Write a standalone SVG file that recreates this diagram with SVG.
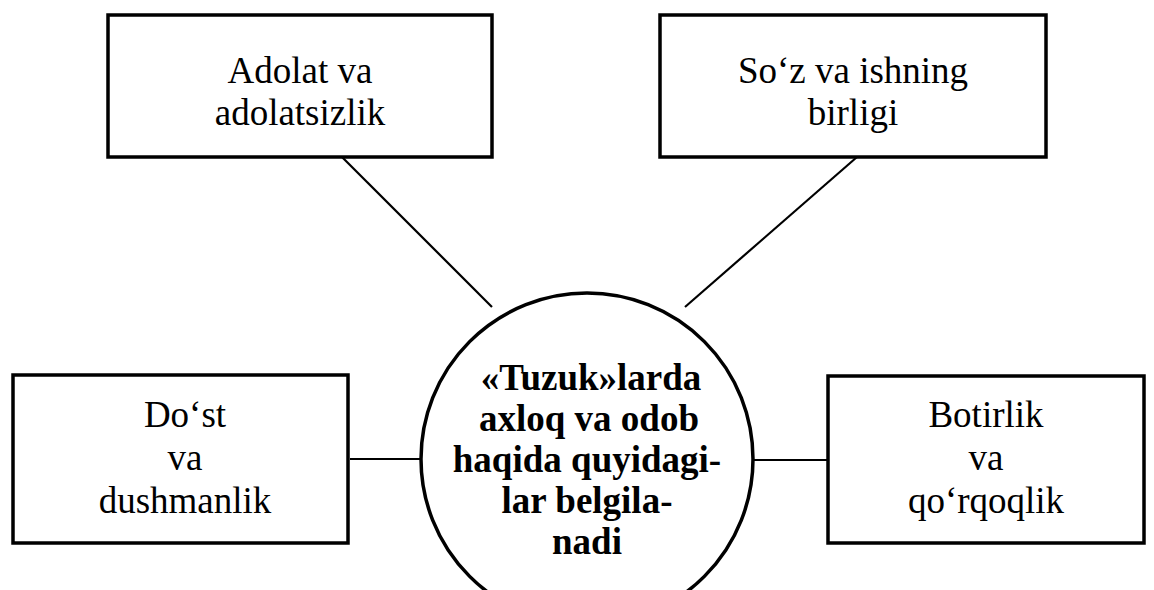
<svg xmlns="http://www.w3.org/2000/svg" width="1154" height="590" viewBox="0 0 1154 590">
<style>
.box{fill:#fff;stroke:#000;stroke-width:3.5}
.hub{fill:#fff;stroke:#000;stroke-width:3.5}
.conn line{stroke:#000;stroke-width:2.2}
.t{font-family:"Liberation Serif","Times New Roman",serif;font-size:37px;text-anchor:middle;fill:#000}
.b{font-weight:bold}
</style>
<rect width="1154" height="590" fill="#fff"/>
<g id="connectors" class="conn">
<line x1="342" y1="157" x2="492" y2="307"/>
<line x1="857" y1="157" x2="685" y2="307"/>
<line x1="350" y1="459" x2="421" y2="459"/>
<line x1="753" y1="460" x2="828" y2="460"/>
</g>
<g id="node-adolat">
<rect class="box" x="108" y="15" width="384" height="142"/>
<text class="t" x="300" y="83">Adolat va</text>
<text class="t" x="300" y="125">adolatsizlik</text>
</g>
<g id="node-soz">
<rect class="box" x="660" y="15" width="386" height="142"/>
<text class="t" x="853" y="83">So‘z va ishning</text>
<text class="t" x="853" y="125">birligi</text>
</g>
<g id="node-dost">
<rect class="box" x="13" y="375" width="335" height="168"/>
<text class="t" x="185" y="427">Do‘st</text>
<text class="t" x="185" y="470">va</text>
<text class="t" x="185" y="513">dushmanlik</text>
</g>
<g id="node-botirlik">
<rect class="box" x="828" y="376" width="316" height="167"/>
<text class="t" x="986" y="427">Botirlik</text>
<text class="t" x="986" y="470">va</text>
<text class="t" x="986" y="513">qo‘rqoqlik</text>
</g>
<g id="node-tuzuk">
<circle class="hub" cx="587" cy="459" r="166"/>
<text class="t b" x="591" y="390">«Tuzuk»larda</text>
<text class="t b" x="589" y="431">axloq va odob</text>
<text class="t b" x="587" y="472">haqida quyidagi-</text>
<text class="t b" x="587" y="513">lar belgila-</text>
<text class="t b" x="587" y="554">nadi</text>
</g>
</svg>
